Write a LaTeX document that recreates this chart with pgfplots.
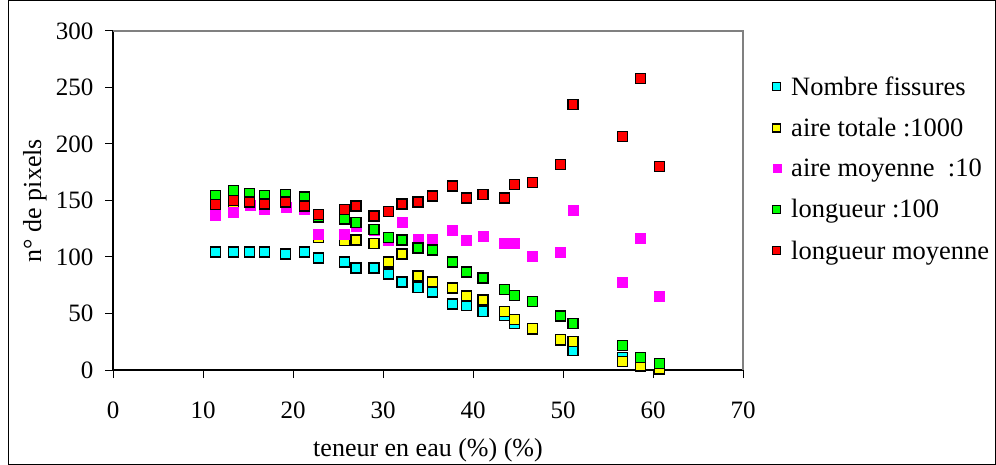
\documentclass[border=0pt]{standalone}
\usepackage{fontspec}
\setmainfont{Liberation Serif}
\usepackage{pgfplots}
\pgfplotsset{compat=1.18}
\definecolor{cC}{RGB}{0,255,255}
\definecolor{cY}{RGB}{255,255,0}
\definecolor{cM}{RGB}{255,0,255}
\definecolor{cG}{RGB}{0,255,0}
\definecolor{cR}{RGB}{255,0,0}
\begin{document}
\begin{tikzpicture}
\useasboundingbox (0,0) rectangle (996bp,465bp);
\draw[black, line width=1bp] (8.5bp,0.5bp) rectangle (995.5bp,464.5bp);
\begin{axis}[
  at={(113bp,95bp)}, anchor=south west,
  scale only axis, width=630bp, height=339bp,
  xmin=0, xmax=70, ymin=0, ymax=300,
  xtick={0,10,...,70}, ytick={0,50,...,300},
  axis lines=left, axis line style={-, black, line width=1.2bp},
  tick align=outside, major tick length=8bp,
  tick style={black, line width=1bp},
  /pgf/number format/assume math mode=true,
  tick label style={font=\fontsize{25bp}{28bp}\selectfont},
  xticklabel style={yshift=-20bp},
  yticklabel style={xshift=-8bp},
  xlabel={teneur en eau (\%) (\%)},
  ylabel={n° de pixels},
  label style={font=\fontsize{26bp}{30bp}\selectfont},
  xlabel style={at={(axis description cs:0.5,0)}, anchor=center, yshift=-80bp},
  ylabel style={at={(axis description cs:-0.124,0.5)}, anchor=center},
  clip=false,
  legend cell align=left,
  legend style={at={(1.047,0.872)}, anchor=north west, draw=none, fill=none,
    inner sep=0pt, row sep=17.3bp, font=\fontsize{26.5bp}{30bp}\selectfont},
  legend image code/.code={\draw[#1, mark size=4bp] plot coordinates {(0.15cm,0cm)};\path (16.5bp,0bp);},
]
\draw[gray, line width=1.2bp] (rel axis cs:0,1) -- (rel axis cs:1,1) -- (rel axis cs:1,0);

\addplot[only marks, mark=square*, mark size=5bp, mark options={fill=cC, draw=black, line width=1.3bp}] table {
x y
11.4 104.4
13.4 104.4
15.2 104.4
16.8 104.4
19.2 102.7
21.3 104.4
22.8 99.1
25.7 95.6
27.0 90.3
29.0 90.3
30.6 85.0
32.1 77.9
33.9 73.0
35.5 69.1
37.7 58.5
39.3 56.8
41.1 51.8
43.5 48.0
44.6 41.0
46.6 36.0
49.7 26.0
51.1 17.4
56.6 11.0
58.6 3.2
60.7 1.0
};
\addlegendentry{Nombre fissures}

\addplot[only marks, mark=square*, mark size=5bp, mark options={fill=cY, draw=black, line width=1.3bp}] table {
x y
11.4 143.0
13.4 145.8
15.2 152.4
16.8 148.7
19.2 148.0
21.3 148.7
22.8 117.0
25.7 114.5
27.0 115.0
29.0 111.8
30.6 95.6
32.1 102.6
33.9 83.2
35.5 77.9
37.7 72.6
39.3 65.6
41.1 62.0
43.5 51.7
44.6 44.5
46.6 37.0
49.7 27.1
51.1 25.0
56.6 7.7
58.6 3.8
60.7 1.2
};
\addlegendentry{aire totale :1000}

\addplot[only marks, mark=square*, mark size=5bp, mark options={fill=cM, draw=cM, line width=0.5bp}] table {
x y
11.4 137.0
13.4 139.7
15.2 146.0
16.8 142.4
19.2 144.2
21.3 142.4
22.8 120.3
25.7 120.3
27.0 127.0
29.0 123.8
30.6 114.7
32.1 130.9
33.9 115.5
35.5 115.6
37.7 123.8
39.3 115.0
41.1 118.5
43.5 111.8
44.6 111.8
46.6 100.9
49.7 104.4
51.1 141.5
56.6 77.9
58.6 116.8
60.7 65.6
};
\addlegendentry{aire moyenne \ :10}

\addplot[only marks, mark=square*, mark size=5bp, mark options={fill=cG, draw=black, line width=1.3bp}] table {
x y
11.4 154.7
13.4 159.1
15.2 156.2
16.8 154.7
19.2 155.3
21.3 153.0
22.8 135.3
25.7 133.7
27.0 130.6
29.0 124.2
30.6 117.1
32.1 115.0
33.9 108.0
35.5 106.2
37.7 95.6
39.3 86.8
41.1 81.5
43.5 71.0
44.6 65.8
46.6 60.5
49.7 47.9
51.1 40.9
56.6 21.8
58.6 11.2
60.7 5.9
};
\addlegendentry{longueur :100}

\addplot[only marks, mark=square*, mark size=5bp, mark options={fill=cR, draw=black, line width=1.3bp}] table {
x y
11.4 146.5
13.4 150.0
15.2 148.6
16.8 146.8
19.2 148.6
21.3 145.0
22.8 137.7
25.7 141.8
27.0 145.0
29.0 136.3
30.6 140.0
32.1 146.8
33.9 148.6
35.5 153.9
37.7 162.7
39.3 152.1
41.1 155.6
43.5 152.1
44.6 164.4
46.6 166.2
49.7 182.1
51.1 235.0
56.6 206.8
58.6 258.0
60.7 180.3
};
\addlegendentry{longueur moyenne}
\end{axis}
\end{tikzpicture}
\end{document}
